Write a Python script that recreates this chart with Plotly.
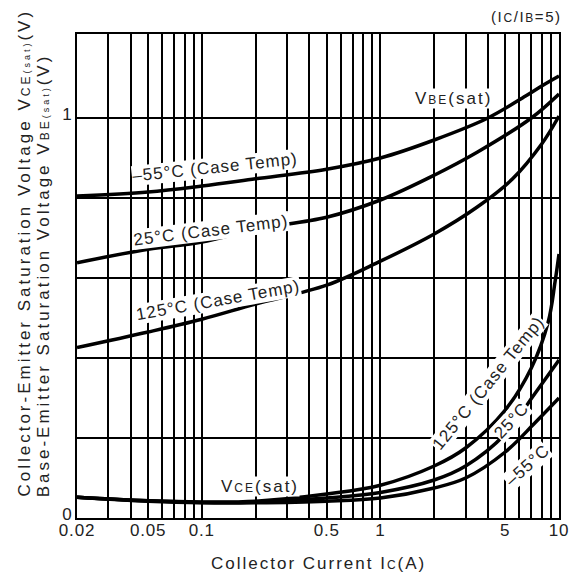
import plotly.graph_objects as go

# ---------------- data ----------------
vbe_m55_ic = [0.02, 0.05, 0.1, 0.2, 0.5, 1, 2, 4, 6.5, 8, 10]
vbe_m55_v = [0.805, 0.815, 0.83, 0.848, 0.872, 0.90, 0.945, 1.0, 1.055, 1.08, 1.105]

vbe_25_ic = [0.02, 0.05, 0.1, 0.2, 0.5, 1, 2, 3.5, 7, 10]
vbe_25_v = [0.638, 0.672, 0.69, 0.722, 0.752, 0.795, 0.857, 0.915, 1.0, 1.06]

vbe_125_ic = [0.02, 0.05, 0.1, 0.2, 0.5, 1, 2, 3.5, 5.5, 8, 10]
vbe_125_v = [0.426, 0.465, 0.497, 0.535, 0.582, 0.642, 0.71, 0.778, 0.848, 0.935, 1.005]

vce_125_ic = [0.02, 0.05, 0.1, 0.2, 0.5, 1, 2, 3, 5, 7, 8.7, 9.5, 10]
vce_125_v = [0.052, 0.043, 0.04, 0.042, 0.06, 0.082, 0.13, 0.175, 0.27, 0.375, 0.49, 0.59, 0.66]

vce_25_ic = [0.02, 0.05, 0.1, 0.2, 0.5, 1, 2, 3, 5, 7.3, 10]
vce_25_v = [0.052, 0.043, 0.039, 0.04, 0.05, 0.064, 0.095, 0.13, 0.21, 0.31, 0.395]

vce_m55_ic = [0.02, 0.05, 0.1, 0.2, 0.5, 1, 2, 3, 5, 7.3, 10]
vce_m55_v = [0.052, 0.042, 0.038, 0.038, 0.042, 0.05, 0.075, 0.10, 0.165, 0.237, 0.30]

x_grid = [0.02, 0.03, 0.04, 0.05, 0.06, 0.07, 0.08, 0.09, 0.1,
          0.2, 0.3, 0.4, 0.5, 0.6, 0.7, 0.8, 0.9, 1,
          2, 3, 4, 5, 6, 7, 8, 9, 10]
x_labels = {0.02: "0.02", 0.05: "0.05", 0.1: "0.1", 0.5: "0.5", 1: "1", 5: "5", 10: "10"}
y_grid = [0, 0.2, 0.4, 0.6, 0.8, 1.0]
y_labels = {0: "0", 1.0: "1"}

FONT = "Liberation Sans, Arial, sans-serif"
TXT = "#222222"

fig = go.Figure()
series = [
    (vbe_m55_ic, vbe_m55_v), (vbe_25_ic, vbe_25_v), (vbe_125_ic, vbe_125_v),
    (vce_125_ic, vce_125_v), (vce_25_ic, vce_25_v), (vce_m55_ic, vce_m55_v),
]
for xs, ys in series:
    fig.add_trace(go.Scatter(x=xs, y=ys, mode="lines",
                             line=dict(color="black", width=3.5, shape="spline", smoothing=1.0),
                             showlegend=False, hoverinfo="skip"))

# page body has an 8px margin: figure coords = page coords - 8
OFF = 8
W, H = 581 - OFF, 579 - OFF
L, R, T, B = 77 - OFF, 564 - OFF, 34 - OFF, 518 - OFF


def px(x):
    return (x - OFF - L) / (R - L)


def py(y):
    return (B - (y - OFF)) / (B - T)


def sp(text, ls):
    return "<span style='letter-spacing:%spx'>%s</span>" % (ls, text)


def ann(text, x, y, angle=0, size=17, xa="center", ya="middle", bg="white", ls=1.0):
    fig.add_annotation(text=sp(text, ls), x=px(x), y=py(y), xref="paper", yref="paper",
                       showarrow=False, textangle=angle, xanchor=xa, yanchor=ya,
                       font=dict(family=FONT, size=size, color=TXT),
                       bgcolor=bg, borderpad=0)


sm2 = "<span style='font-size:12px'>"
ann("–55°C (Case Temp)", 216, 168, -6)
ann("25°C (Case Temp)", 212, 230, -7)
ann("125°C (Case Temp)", 219, 300, -10)
ann("V" + sm2 + "BE</span>(sat)", 457, 98, ls=2)
ann("125°C (Case Temp)", 492, 383, -51)
ann("25°C", 516, 420, -47)
ann("–55°C", 532, 465, -42)
ann("V" + sm2 + "CE</span>(sat)", 262, 486, ls=2)
ann("(I" + sm2 + "C</span>/I" + sm2 + "B</span>=5)", 568, 17, 0, 15, "right", "middle", None, 1.6)

ann("Collector-Emitter Saturation Voltage V" + sm2 + "CE</span><span style='font-size:9px'>(sat)</span>(V)",
    23, 498, -90, 17, "center", "bottom", None, 3.0)
ann("Base-Emitter Saturation Voltage V" + sm2 + "BE</span><span style='font-size:9px'>(sat)</span>(V)",
    43, 498, -90, 17, "center", "bottom", None, 3.0)
ann("Collector Current I" + sm2 + "C</span>(A)", 321, 563, 0, 17, "center", "middle", None, 2.0)

fig.update_xaxes(type="log", range=[0.30103 - 2, 1.0],
                 tickvals=x_grid, ticktext=[sp(x_labels[v], 0.8) if v in x_labels else "" for v in x_grid],
                 showgrid=True, gridcolor="black", gridwidth=1.8,
                 showline=True, linecolor="black", linewidth=2, mirror=True,
                 ticks="", zeroline=False, ticklabelstandoff=-4,
                 tickfont=dict(family=FONT, size=17, color=TXT))
fig.update_yaxes(range=[0, 1.21],
                 tickvals=y_grid, ticktext=[y_labels.get(v, "") for v in y_grid],
                 showgrid=True, gridcolor="black", gridwidth=1.8,
                 showline=True, linecolor="black", linewidth=2, mirror=True,
                 ticks="", zeroline=False, ticklabelshift=-4,
                 tickfont=dict(family=FONT, size=17, color=TXT))

fig.update_layout(width=W, height=H, margin=dict(l=L, r=W - R, t=T, b=H - B),
                  paper_bgcolor="white", plot_bgcolor="white",
                  font=dict(family=FONT, color=TXT))
fig.write_html("out.html")
